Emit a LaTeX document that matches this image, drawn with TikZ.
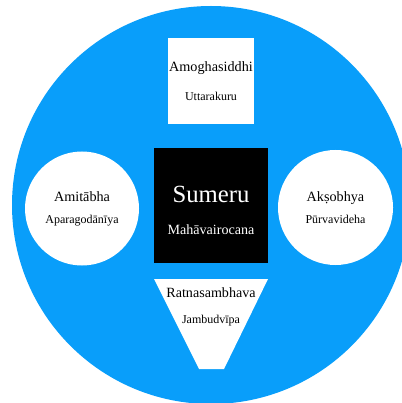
\documentclass[tikz,border=0pt]{standalone}
\usepackage{fontspec}
\setmainfont{Liberation Serif}

\definecolor{oceanblue}{RGB}{9,158,250}
\newcommand{\placefont}{\fontsize{12}{14}\selectfont}

\begin{document}
\begin{tikzpicture}[x=1pt, y=-1pt,
  ocean/.style={circle, fill=oceanblue, draw=none, minimum size=398pt, inner sep=0pt},
  isle/.style={fill=white, draw=none, align=center, inner sep=0pt},
  sqisle/.style={isle, rectangle, minimum size=86pt, font=\fontsize{14.2}{29}\selectfont},
  rdisle/.style={isle, circle, minimum size=114pt, font=\fontsize{14.2}{22}\selectfont},
  meru/.style={rectangle, fill=black, text=white, minimum size=114pt, inner sep=0pt,
    align=center, font=\fontsize{24.7}{32}\selectfont},
  trilbl/.style={align=center, inner sep=0pt, font=\fontsize{14.1}{26}\selectfont},
]
\useasboundingbox (0,0) rectangle (401,403);

%── Ocean ─────────────────────────────────────────────────────────────────────

\node[ocean] (sea) at (211,205) {};

%── Mount Sumeru ──────────────────────────────────────────────────────────────

\node[meru] (sumeru) at (211,205.5)
  {\rule{0pt}{27pt}Sumeru\\{\fontsize{14.1}{16}\selectfont Mahāvairocana}};

%── Four continents ───────────────────────────────────────────────────────────

\node[sqisle] (amogha) at (211,81) {Amoghasiddhi\\{\placefont Uttarakuru}};
\node[rdisle] (amita)  at (82,208.5) {Amitābha\\{\placefont Aparagodānīya}};
\node[rdisle, minimum size=115pt] (akso) at (335.5,207.5)
  {Akṣobhya\\{\placefont Pūrvavideha}};

% Jambudvipa (trapezium)
\coordinate (jtl) at (154,279);
\coordinate (jtr) at (268,279);
\coordinate (jbr) at (224,369);
\coordinate (jbl) at (199,369);
\fill[white] (jtl) -- (jtr) -- (jbr) -- (jbl) -- cycle;
\node[trilbl] (ratna) at (211,306.5) {Ratnasambhava\\{\placefont Jambudvīpa}};

\end{tikzpicture}
\end{document}
